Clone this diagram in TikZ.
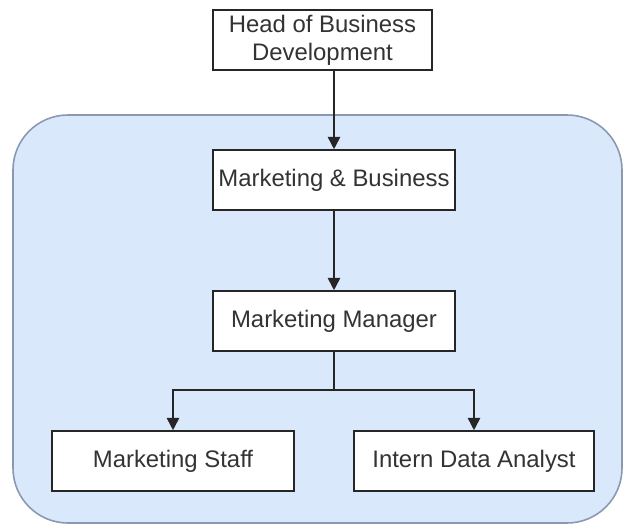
\documentclass[tikz,border=0pt]{standalone}
\usepackage{fontspec}
\setmainfont{Liberation Sans}
\usetikzlibrary{arrows.meta}

\definecolor{groupfill}{RGB}{218,232,252}
\definecolor{groupline}{RGB}{138,152,178}
\definecolor{labeltext}{RGB}{51,51,51}

\begin{document}
\begin{tikzpicture}[x=0.02cm, y=-0.02cm, line width=0.9pt,
    role/.style={draw=black!85, fill=white, inner sep=0pt, minimum height=1.2cm,
        text=labeltext, font=\fontsize{13.6}{15.8}\selectfont, align=center},
    link/.style={draw=black!85, -{Triangle[width=7pt,length=7pt]}}]
    \useasboundingbox (0, 0) rectangle (625, 525);

    % department area
    \draw [fill=groupfill, draw=groupline, rounded corners=1.1cm] (13, 115) rectangle (622, 523);

    \node [role, minimum width=4.38cm] (head) at (322.5, 40) {Head of Business\\Development};
    \node [role, minimum width=4.84cm] (mb) at (334, 180) {Marketing \& Business};
    \node [role, minimum width=4.84cm] (mgr) at (334, 321) {Marketing Manager};
    \node [role, minimum width=4.84cm] (staff) at (173, 461) {Marketing Staff};
    \node [role, minimum width=4.80cm] (intern) at (474, 461) {Intern Data Analyst};

    \coordinate (split) at (334, 390);

    \draw [link] (head.south -| mb.north) -- (mb.north);
    \draw [link] (mb) -- (mgr);
    \draw [link] (mgr.south) -- (split) -| (staff.north);
    \draw [link] (split) -| (intern.north);
\end{tikzpicture}
\end{document}
